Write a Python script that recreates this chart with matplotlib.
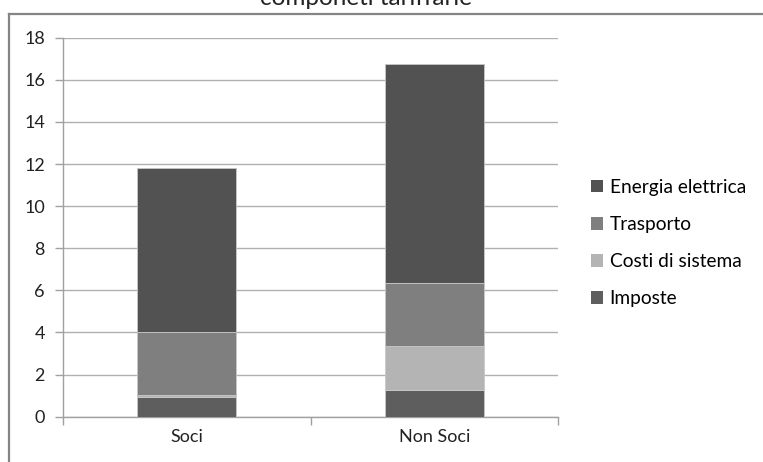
import numpy as np
import matplotlib.pyplot as plt
from matplotlib.patches import Patch

plt.rcParams['font.family'] = ['Lato', 'DejaVu Sans']
plt.rcParams['font.size'] = 13

categories = ["Soci", "Non Soci"]
imposte = [0.93, 1.25]
costi_sistema = [0.11, 2.10]
trasporto = [3.00, 3.01]
energia = [7.76, 10.39]

series = [
    ("Imposte", imposte, "#5e5e5e"),
    ("Costi di sistema", costi_sistema, "#b4b4b4"),
    ("Trasporto", trasporto, "#7f7f7f"),
    ("Energia elettrica", energia, "#525252"),
]

W, H = 763, 462
fig = plt.figure(figsize=(W / 100, H / 100), dpi=100)
ax = fig.add_axes([63 / W, (H - 416.7) / H, (558 - 63) / W, (416.7 - 37.7) / H])

x = np.arange(len(categories))
bottom = np.zeros(len(categories))
for name, vals, col in series:
    ax.bar(x, vals, 0.4, bottom=bottom, color=col, edgecolor="#c8c8c8",
           linewidth=0.6, label=name, zorder=3)
    bottom += np.array(vals)

ax.set_xlim(-0.5, 1.5)
ax.set_ylim(0, 18)
ax.set_yticks(np.arange(0, 19, 2))
ax.yaxis.grid(True, color="#b0b0b0", linewidth=1.0, zorder=0)
ax.set_axisbelow(True)

ax.set_xticks(x)
ax.set_xticklabels(categories)
ax.set_xticks([-0.5, 0.5, 1.5], minor=True)
ax.tick_params(axis="x", which="major", length=0, pad=9, colors="#222222")
ax.tick_params(axis="x", which="minor", length=6, color="#a0a0a0", width=1)
ax.tick_params(axis="y", length=6, width=1, pad=7, colors="#222222")
ax.tick_params(axis="y", color="#a0a0a0")

for s in ["top", "right"]:
    ax.spines[s].set_visible(False)
for s in ["left", "bottom"]:
    ax.spines[s].set_color("#a0a0a0")
    ax.spines[s].set_linewidth(1.0)

# legend, top entry first
handles = [Patch(facecolor=c, edgecolor="none") for _, _, c in series][::-1]
labels = [n for n, _, _ in series][::-1]
fig.legend(handles, labels, loc="upper left", bbox_to_anchor=(591 / W, 1 - 179 / H),
           frameon=False, handlelength=0.62, handleheight=0.62, handletextpad=0.35,
           labelspacing=1.05, fontsize=13.8, borderaxespad=0, borderpad=0)

# chart frame, clipped by the image edges
fig.add_artist(plt.Line2D([9 / W, 1.0], [1 - 13.5 / H] * 2, color="#858585", linewidth=1.6))
fig.add_artist(plt.Line2D([9 / W] * 2, [0, 1 - 13.5 / H], color="#858585", linewidth=1.6))

fig.text(366 / W, 1 - 5 / H, "componeti tariffarie", ha="center", va="baseline",
         fontsize=17.5, color="#222222")

fig.savefig("out.png", dpi=100)
